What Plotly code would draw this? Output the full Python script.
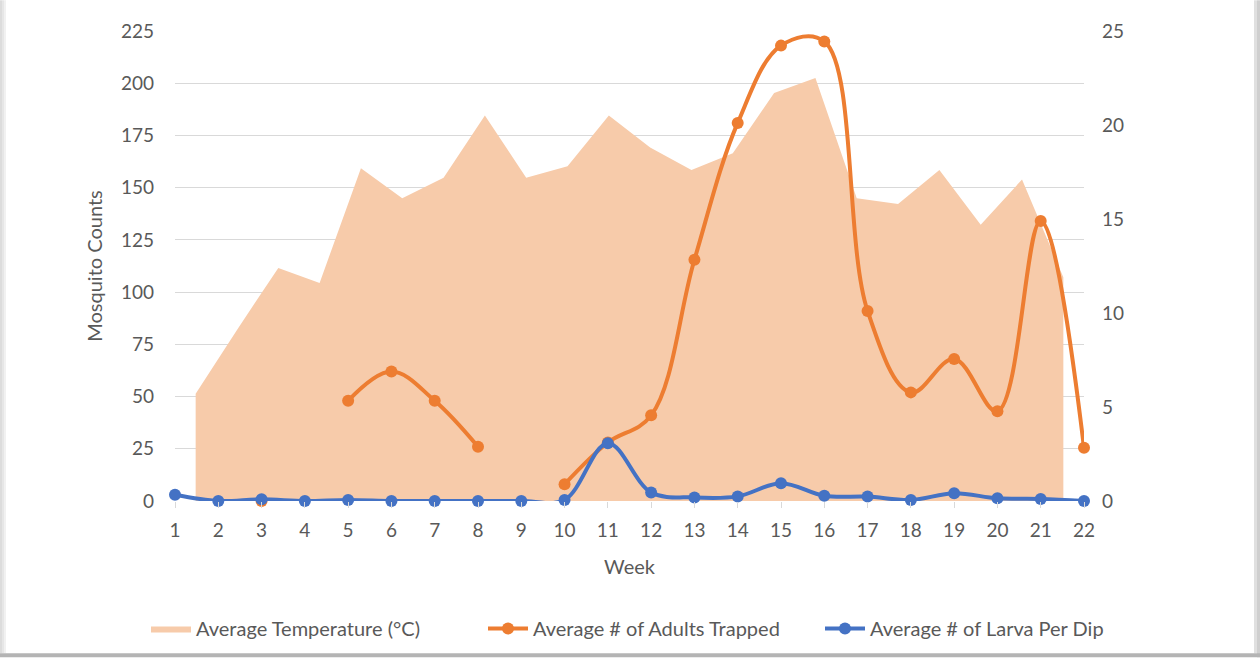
import plotly.graph_objects as go

weeks = list(range(1, 23))
week_labels = [str(w) for w in weeks]

# Average temperature (°C), right axis
temperature = [5.7, 9.1, 12.4, 11.6, 17.7, 16.1, 17.2, 20.5, 17.2, 17.8, 20.5,
               18.8, 17.6, 18.5, 21.7, 22.5, 16.1, 15.8, 17.6, 14.7, 17.1, 11.9]

# Average # of adults trapped (left axis)
adults = [None, None, 0, None, 48, 62, 48, 26, None, 8, 28,
          41, 115.5, 181, 218, 220, 91, 52, 68, 43, 134, 25.5]

# Average # of larva per dip (left axis scale)
larva = [3.0, 0, 0.8, 0, 0.5, 0, 0, 0, 0, 0.5, 27.7,
         4.1, 1.7, 2.2, 8.5, 2.5, 2.1, 0.5, 3.7, 1.3, 1.0, 0]

left_ticks = list(range(0, 226, 25))
right_ticks = list(range(0, 26, 5))

AREA = "#F7CBAA"
ORANGE = "#ED7D31"
BLUE = "#4472C4"
GRID = "#D9D9D9"
TXT = "#595959"
FONT = "Lato"

fig = go.Figure()

fig.add_trace(go.Scatter(
    x=weeks, y=temperature, name="Average Temperature (°C)",
    mode="lines", fill="tozeroy", fillcolor=AREA,
    line=dict(width=0, color=AREA),
    xaxis="x", yaxis="y",
))

fig.add_trace(go.Scatter(
    x=weeks, y=adults, name="Average # of Adults Trapped",
    mode="lines+markers",
    line=dict(color=ORANGE, width=4, shape="spline", smoothing=1.05),
    marker=dict(color=ORANGE, size=12),
    xaxis="x2", yaxis="y2", cliponaxis=False,
))

fig.add_trace(go.Scatter(
    x=weeks, y=larva, name="Average # of Larva Per Dip",
    mode="lines+markers",
    line=dict(color=BLUE, width=4, shape="spline", smoothing=1),
    marker=dict(color=BLUE, size=12),
    xaxis="x2", yaxis="y2", cliponaxis=False,
))

PLOT_TOP, PLOT_BOTTOM = 31, 503

def px_x(p):
    return (p - 175) / 909.0

def px_y(p):
    return (PLOT_BOTTOM - p) / float(PLOT_BOTTOM - PLOT_TOP)

shadow = [
    (0, 2, 0, 656, "#dcdcdc"),
    (2, 4, 0, 656, "#e6e6e6"),
    (4, 6, 0, 656, "#f1f1f1"),
    (1254, 1257, 0, 656, "#e0e0e0"),
    (1257, 1260, 0, 660, "#cfcfcf"),
    (0, 1260, 656, 660, "#b4b4b4"),
]
shapes = []
for x0, x1, y0, y1, c in shadow:
    shapes.append(dict(type="rect", xref="paper", yref="paper",
                       x0=px_x(x0), x1=px_x(x1), y0=px_y(y1), y1=px_y(y0),
                       fillcolor=c, line=dict(width=0), layer="above"))

fig.update_layout(
    width=1260, height=660,
    margin=dict(l=175, r=176, t=PLOT_TOP, b=660 - PLOT_BOTTOM),
    paper_bgcolor="white", plot_bgcolor="white",
    font=dict(family=FONT, size=19, color=TXT),
    showlegend=True,
    legend=dict(orientation="h", x=px_x(146), xanchor="left", y=px_y(631), yanchor="middle",
                font=dict(size=20, color=TXT), itemwidth=40, tracegroupgap=0,
                entrywidth=282, entrywidthmode="pixels"),
    shapes=shapes,
    xaxis=dict(range=[0.5, 22.5], visible=False, anchor="y", fixedrange=True),
    yaxis=dict(range=[0, 25], side="right", tickvals=right_ticks, showgrid=False,
               zeroline=False, showline=False, ticks="", anchor="x",
               ticklabelstandoff=17, tickfont=dict(size=19, color=TXT)),
    xaxis2=dict(range=[1, 22], overlaying="x", anchor="y2", side="bottom",
                tickvals=weeks, ticktext=week_labels, showgrid=False, zeroline=False,
                showline=False, ticks="outside", ticklen=6, tickcolor=GRID, tickwidth=1,
                ticklabelstandoff=6,
                title=dict(text="Week", standoff=20, font=dict(size=20, color=TXT)),
                tickfont=dict(size=19, color=TXT)),
    yaxis2=dict(range=[0, 225], overlaying="y", anchor="x2", side="left",
                tickvals=left_ticks, showgrid=True, gridcolor=GRID, gridwidth=1.3,
                zeroline=False, showline=False, ticks="",
                ticklabelstandoff=20,
                title=dict(text="Mosquito Counts", standoff=12, font=dict(size=20, color=TXT)),
                tickfont=dict(size=19, color=TXT)),
)

fig.write_html("out.html", config={"displayModeBar": False},
               post_script="document.body.style.margin='0';")
